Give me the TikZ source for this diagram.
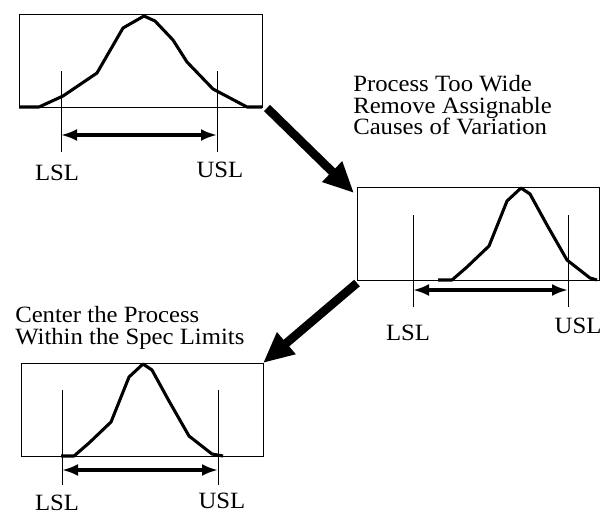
\documentclass[tikz,border=0pt]{standalone}
\usepackage{fontspec}
\setmainfont{Liberation Serif}[FakeStretch=1.06]
\usetikzlibrary{arrows.meta,calc,positioning}

\begin{document}
\begin{tikzpicture}[x=0.75pt,y=-0.75pt,
    specbox/.style={draw,line width=0.7pt},
    curve/.style={line width=2.3pt,line join=round},
    limit/.style={line width=0.6pt},
    specrange/.style={{Latex[length=12pt,width=9pt]}-{Latex[length=12pt,width=9pt]},line width=2.3pt},
    bigarrow/.style={-{Triangle[length=23pt,width=20pt]},line width=6.5pt},
    lbl/.style={font=\fontsize{17.5}{16.3}\selectfont,inner sep=0pt},
  ]
        \useasboundingbox (0,0) rectangle (600,515);
        \coordinate (b1nw) at (19,14);
        \coordinate (b1se) at (262,107);
        \coordinate (b2nw) at (357,187);
        \coordinate (b2se) at (599,280);
        \coordinate (b3nw) at (21,363);
        \coordinate (b3se) at (263,456);
        %Draw boxes
        \draw[specbox] (b1nw) rectangle (b1se);
        \draw[specbox] (b2nw) rectangle (b2se);
        \draw[specbox] (b3nw) rectangle (b3se);
        %Draw curves
        \draw[curve] (19,107) -- (39,107) -- (63,96) -- (97,73) -- (123,28) -- (144,16) -- (155,21) -- (173,40) -- (187,62) -- (213,89) -- (247,107) -- (262,107);
        \foreach \px/\py/\xa/\xb in {521/188/-83/76, 143/364/-82/80}
          {
            \draw[curve,shift={(\px,\py)}] (\xa,92) -- (-69,92) -- (-54,79) -- (-32,58) -- (-14,13) -- (0,0) -- (9,6) -- (26,37) -- (46,72) -- (69,90) -- (\xb,92);
          }
        %Draw spec limits
        \foreach \l/\u/\t/\b/\r [count=\i] in {61/217/71/152/135, 413/568/215/307/290, 62/218/390/485/470}
          {
            \coordinate (lsl\i) at (\l,\r);
            \coordinate (usl\i) at (\u,\r);
            \draw[limit] (\l,\t) -- (\l,\b);
            \draw[limit] (\u,\t) -- (\u,\b);
            \draw[specrange] (lsl\i) -- (usl\i);
          }
        %Draw labels
        \node[lbl] (lsltxt1) at (57,173) {LSL};
        \node[lbl] (usltxt1) at (220,170) {USL};
        \node[lbl] (lsltxt2) at (408,333) {LSL};
        \node[lbl] (usltxt2) at (578,326) {USL};
        \node[lbl] (lsltxt3) at (57,503) {LSL};
        \node[lbl] (usltxt3) at (222,501) {USL};
        \node[lbl,anchor=north west,align=left] (wide) at (353,75) {Process Too Wide\\Remove Assignable\\Causes of Variation};
        \node[lbl,anchor=north west,align=left] (center) at (15,306) {Center the Process\\Within the Spec Limits};
        %Draw arrows
        \draw[bigarrow] ($(b1se)+(5,1)$) -- ($(b2nw)+(-3,6)$);
        \draw[bigarrow] ($(b2se)+(-242,3)$) -- ($(b3se)+(0,-93)$);
\end{tikzpicture}
\end{document}
